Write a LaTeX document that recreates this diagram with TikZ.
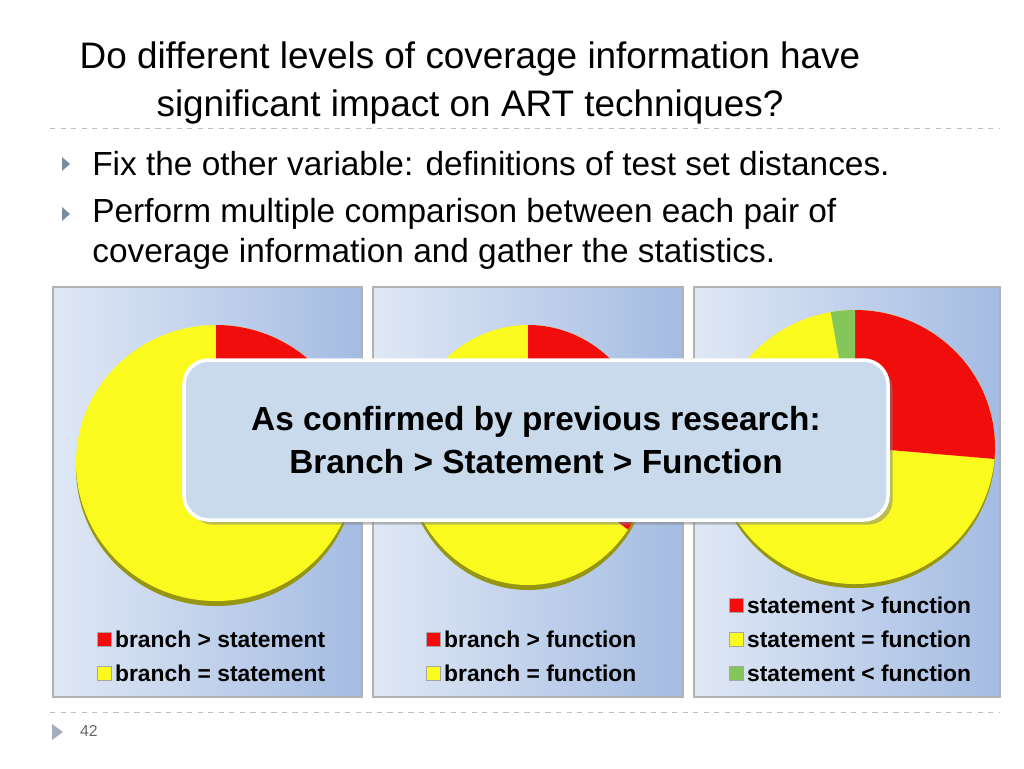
\documentclass[tikz,border=0pt]{standalone}
\usepackage{fontspec}
\setmainfont{Liberation Sans}
\usetikzlibrary{positioning,shadows}
\definecolor{pieRed}{HTML}{F20D0D}
\definecolor{pieYellow}{HTML}{FAFA1E}
\definecolor{pieGreen}{HTML}{84C65A}
\definecolor{panelBlue}{HTML}{A4BCE2}
\definecolor{calloutBlue}{HTML}{C8DAEC}
\definecolor{bulletGrey}{HTML}{7A8CA3}

\begin{document}
\begin{tikzpicture}[x=0.02cm, y=-0.02cm,
    panel/.style={draw=gray!60, line width=1.5pt, left color=panelBlue!35, right color=panelBlue},
    legend/.style={font=\fontsize{13}{15}\selectfont\bfseries, anchor=west, inner sep=1pt},
    keybox/.style={draw=gray!70, line width=0.3pt, minimum size=8pt, inner sep=0pt},
    bullet/.style={fill=bulletGrey, inner sep=0pt}
  ]
  \useasboundingbox (0,0) rectangle (1024,768);
  % title
  \node[align=center, font=\fontsize{21}{27}\selectfont] (title) at (470,83)
    {Do different levels of coverage information have\\significant impact on ART techniques?};
  \draw[gray!50, dashed] (50,128) -- (1000,128);
  % bullets
  \node[anchor=west, inner sep=0pt, font=\fontsize{19}{23}\selectfont] (b1) at (92,164) {Fix the other variable: definitions of test set distances.};
  \node[anchor=north west, inner sep=0pt, align=left, font=\fontsize{19}{23}\selectfont] (b2) at (92,198)
    {Perform multiple comparison between each pair of\\coverage information and gather the statistics.};
  \fill[bulletGrey] (62,157) -- (70,164) -- (62,171) -- cycle;
  \fill[bulletGrey] (62,207) -- (70,214) -- (62,221) -- cycle;
  % panels
  \foreach \xa/\xb in {53/362, 373/683, 694/1000}
    \draw[panel] (\xa,287) rectangle (\xb,697);
  % pie 1
  \fill[pieYellow!60!black] (216,468) ellipse [x radius=140, y radius=138];
  \fill[pieYellow] (216,463) ellipse [x radius=140, y radius=138];
  \fill[pieRed] (216,463) -- (216,325) arc[start angle=90, end angle=45, x radius=140, y radius=-138] -- cycle;
  % pie 2
  \fill[pieYellow!60!black] (528,460) ellipse [x radius=122, y radius=130];
  \fill[pieYellow] (528,455) ellipse [x radius=122, y radius=130];
  \fill[pieRed] (528,455) -- (528,325) arc[start angle=90, end angle=-35, x radius=122, y radius=-130] -- cycle;
  % pie 3
  \fill[pieYellow!60!black] (855,451) ellipse [x radius=140, y radius=137];
  \fill[pieYellow] (855,447) ellipse [x radius=140, y radius=137];
  \fill[pieRed] (855,447) -- (855,310) arc[start angle=90, end angle=-5, x radius=140, y radius=-137] -- cycle;
  \fill[pieGreen] (855,447) -- (855,310) arc[start angle=90, end angle=100, x radius=140, y radius=-137] -- cycle;
  % callout
  \node[draw=white, line width=2pt, rounded corners=14pt, fill=calloutBlue, drop shadow,
        minimum width=704*0.02cm, minimum height=160*0.02cm, align=center,
        font=\fontsize{19}{24}\selectfont\bfseries] (claim) at (536,440)
    {As confirmed by previous research:\\Branch > Statement > Function};
  % legends
  \node[keybox, fill=pieRed] (k1a) at (104,639) {};
  \node[legend, right=1pt of k1a] (l1a) {branch > statement};
  \node[keybox, fill=pieYellow] (k1b) at (104,673) {};
  \node[legend, right=1pt of k1b] (l1b) {branch = statement};
  \node[keybox, fill=pieRed] (k2a) at (433,639) {};
  \node[legend, right=1pt of k2a] (l2a) {branch > function};
  \node[keybox, fill=pieYellow] (k2b) at (433,673) {};
  \node[legend, right=1pt of k2b] (l2b) {branch = function};
  \node[keybox, fill=pieRed] (k3a) at (736,605) {};
  \node[legend, right=1pt of k3a] (l3a) {statement > function};
  \node[keybox, fill=pieYellow] (k3b) at (736,639) {};
  \node[legend, right=1pt of k3b] (l3b) {statement = function};
  \node[keybox, fill=pieGreen] (k3c) at (736,673) {};
  \node[legend, right=1pt of k3c] (l3c) {statement < function};
  % footer
  \draw[gray!50, dashed] (50,712) -- (1000,712);
  \fill[bulletGrey!70] (52,724) -- (63,732) -- (52,740) -- cycle;
  \node[font=\fontsize{9}{11}\selectfont, text=gray!80!black] (page) at (89,731) {42};
\end{tikzpicture}
\end{document}
